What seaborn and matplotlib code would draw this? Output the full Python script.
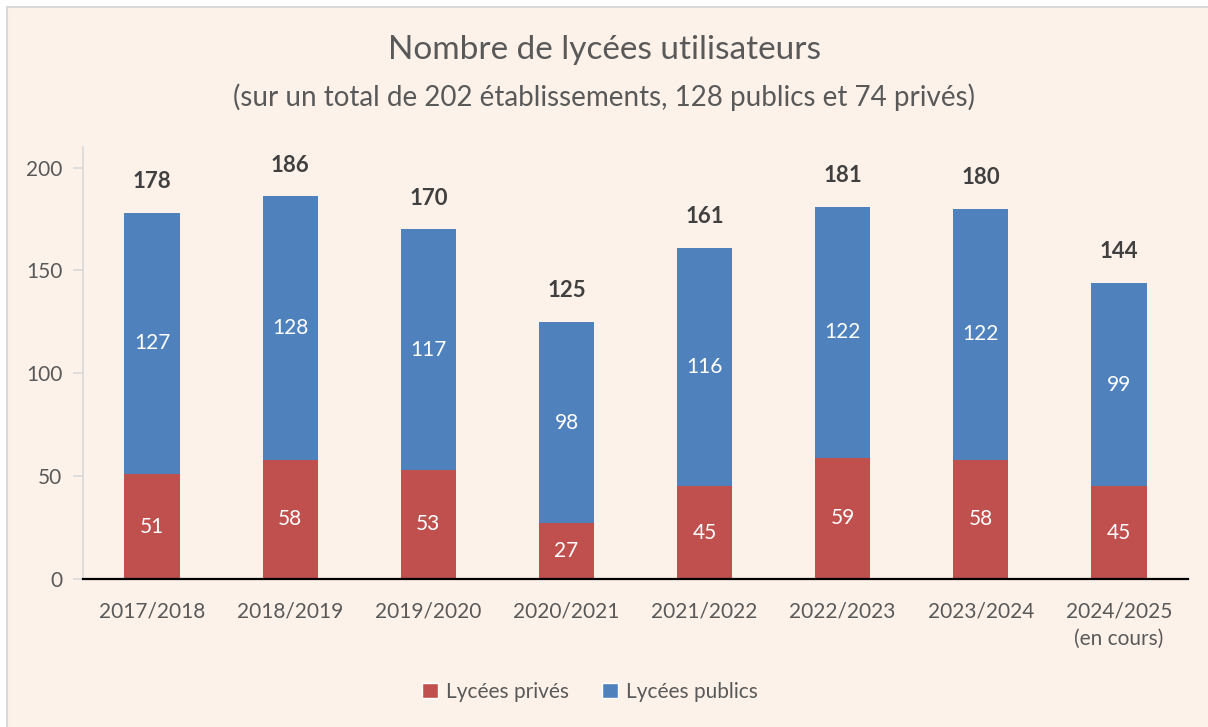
import matplotlib
matplotlib.use("Agg")
import matplotlib.pyplot as plt
import seaborn as sns
import pandas as pd
from matplotlib.patches import Rectangle, Patch

years = ["2017/2018", "2018/2019", "2019/2020", "2020/2021", "2021/2022",
         "2022/2023", "2023/2024", "2024/2025\n(en cours)"]
prives = [51, 58, 53, 27, 45, 59, 58, 45]
publics = [127, 128, 117, 98, 116, 122, 122, 99]
totals = [p + q for p, q in zip(prives, publics)]

df = pd.DataFrame({"annee": years, "prives": prives, "publics": publics, "total": totals})

sns.set_theme(style="white")
plt.rcParams['font.family'] = ['Lato', 'DejaVu Sans']

RED = "#C0504D"
BLUE = "#4F81BD"
BG = "#FDF2EA"
GREY = "#595959"

fig = plt.figure(figsize=(12.08, 7.27), dpi=100)
fig.patch.set_facecolor("white")
frame = Rectangle((7/1208, -0.01), 1.02, 1 - 7/727 + 0.01, transform=fig.transFigure,
                  facecolor=BG, edgecolor="#D9D9D9", linewidth=1.5, zorder=-10)
fig.patches.append(frame)

ax = fig.add_axes([83/1208, 1 - 579/727, (1188 - 83)/1208, (579 - 147)/727])
ax.set_facecolor("none")

sns.barplot(data=df, x="annee", y="total", color=BLUE, width=0.4, saturation=1,
            ax=ax, linewidth=0, order=years)
sns.barplot(data=df, x="annee", y="prives", color=RED, width=0.4, saturation=1,
            ax=ax, linewidth=0, order=years)

ax.set_xlim(-0.5, len(years) - 0.5)
ax.set_ylim(0, 210)
ax.set_yticks([0, 50, 100, 150, 200])
ax.set_xlabel("")
ax.set_ylabel("")

for s in ["top", "right"]:
    ax.spines[s].set_visible(False)
ax.spines["left"].set_color("#D9D9D9")
ax.spines["left"].set_linewidth(1.2)
ax.spines["bottom"].set_color("black")
ax.spines["bottom"].set_linewidth(1.6)

ax.tick_params(axis="y", left=True, length=7, width=1.2, color="#D9D9D9",
               labelsize=15, labelcolor=GREY, pad=8)
ax.tick_params(axis="x", bottom=False, labelsize=15, labelcolor=GREY, pad=10)
for lbl in ax.get_xticklabels():
    lbl.set_linespacing(1.5)
    lbl.set_verticalalignment("top")

for i in range(len(years)):
    ax.text(i, prives[i] / 2, str(prives[i]), ha="center", va="center",
            color="white", fontsize=15)
    ax.text(i, prives[i] + publics[i] / 2, str(publics[i]), ha="center", va="center",
            color="white", fontsize=15)
    ax.text(i, totals[i] + 10, str(totals[i]), ha="center", va="bottom",
            color="#404040", fontsize=16, fontweight="bold", clip_on=False)

fig.text(0.5, 1 - 50/727, "Nombre de lycées utilisateurs", ha="center", va="center",
         fontsize=24, color=GREY)
fig.text(0.5, 1 - 97/727, "(sur un total de 202 établissements, 128 publics et 74 privés)",
         ha="center", va="center", fontsize=20, color=GREY)

handles = [Patch(facecolor=RED, label="Lycées privés"),
           Patch(facecolor=BLUE, label="Lycées publics")]
fig.legend(handles=handles, loc="center", bbox_to_anchor=(590/1208, 1 - 692/727),
           ncol=2, frameon=False, fontsize=15, labelcolor=GREY,
           handlelength=0.75, handleheight=0.75, handletextpad=0.4, columnspacing=1.6)

fig.savefig("out.png", dpi=100, facecolor=fig.get_facecolor())
